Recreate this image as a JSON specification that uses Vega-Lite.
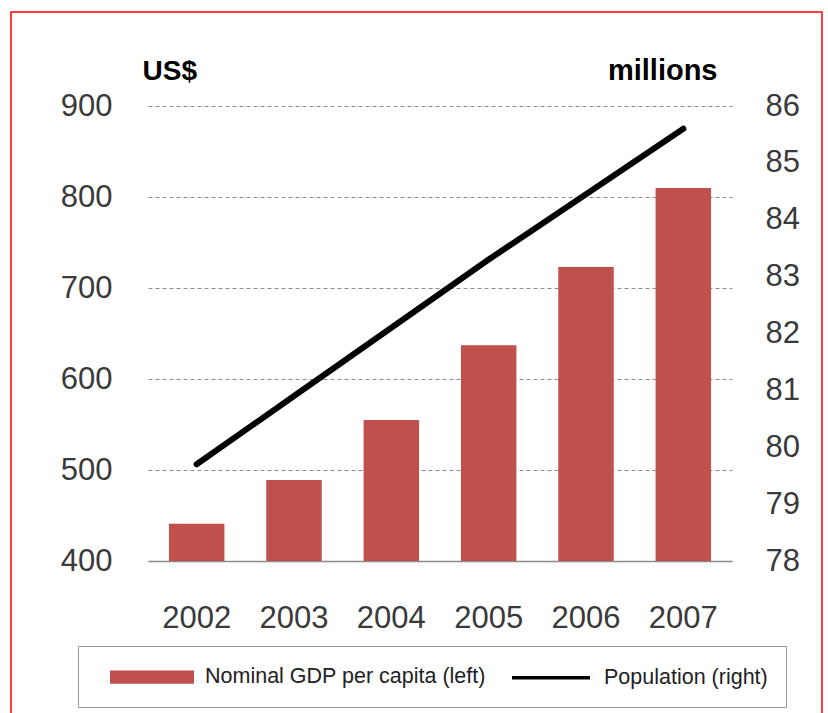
{
  "$schema": "https://vega.github.io/schema/vega-lite/v6.json",
  "width": 811,
  "height": 710,
  "autosize": {"type": "none"},
  "padding": {"left": 11, "top": 12, "right": 6, "bottom": 0},
  "background": "white",
  "data": {
    "values": [
      {"year": "2002", "gdp": 441, "pop": 79.7},
      {"year": "2003", "gdp": 489, "pop": 80.9},
      {"year": "2004", "gdp": 555, "pop": 82.1},
      {"year": "2005", "gdp": 637, "pop": 83.3},
      {"year": "2006", "gdp": 723, "pop": 84.45},
      {"year": "2007", "gdp": 810, "pop": 85.6}
    ]
  },
  "config": {
    "view": {"stroke": "red", "strokeWidth": 1.5},
    "font": "Liberation Sans, Arial, sans-serif"
  },
  "layer": [
    {
      "mark": {"type": "bar"},
      "encoding": {
        "x": {
          "field": "year",
          "type": "nominal",
          "scale": {"range": [137, 721], "paddingInner": 0.43, "paddingOuter": 0.215},
          "axis": {
            "title": null,
            "orient": "bottom",
            "offset": -161,
            "labelAngle": 0,
            "ticks": false,
            "labelPadding": 42,
            "labelFontSize": 31,
            "labelColor": "#3a3a3a",
            "domainColor": "#8c8c8c",
            "domainWidth": 1.5
          }
        },
        "y": {
          "field": "gdp",
          "type": "quantitative",
          "scale": {"domain": [400, 900], "range": [549, 94], "zero": false, "nice": false},
          "axis": {
            "orient": "left",
            "offset": -101,
            "values": [400, 500, 600, 700, 800, 900],
            "domain": false,
            "ticks": false,
            "labelPadding": 0,
            "labelFontSize": 31,
            "labelColor": "#3a3a3a",
            "grid": true,
            "gridColor": "#8c8c8c",
            "gridDash": [4, 3],
            "gridWidth": 1,
            "title": "US$",
            "titleAngle": 0,
            "titleAlign": "left",
            "titleBaseline": "alphabetic",
            "titleX": 30,
            "titleY": 67,
            "titleFontSize": 28,
            "titleFontWeight": "bold",
            "titleColor": "black"
          }
        },
        "y2": {"datum": 400},
        "color": {
          "datum": "Nominal GDP per capita (left)",
          "type": "nominal",
          "scale": {
            "domain": ["Nominal GDP per capita (left)", "Population (right)"],
            "range": ["#C0504D", "black"]
          },
          "legend": {
            "title": null,
            "orient": "none",
            "direction": "horizontal",
            "legendX": 67,
            "legendY": 634,
            "padding": 18,
            "strokeColor": "#9a9a9a",
            "symbolOffset": 43,
            "columnPadding": 9,
            "labelFont": "Liberation Sans",
            "labelFontSize": 21.5,
            "labelColor": "#222222",
            "labelOffset": 40,
            "labelLimit": 0,
            "symbolSize": 484,
            "symbolStrokeWidth": 3.5,
            "symbolType": {"expr": "datum.value === 'Population (right)' ? 'M-3.545,0L3.545,0' : 'M-3.659,-0.432L3.659,-0.432L3.659,0.432L-3.659,0.432Z'"},
            "symbolOpacity": 1
          }
        }
      }
    },
    {
      "mark": {"type": "line", "strokeWidth": 6, "strokeCap": "round"},
      "encoding": {
        "x": {"field": "year", "type": "nominal"},
        "y": {
          "field": "pop",
          "type": "quantitative",
          "scale": {"domain": [78, 86], "range": [549, 94], "zero": false, "nice": false},
          "axis": {
            "orient": "right",
            "offset": -57,
            "values": [78, 79, 80, 81, 82, 83, 84, 85, 86],
            "domain": false,
            "ticks": false,
            "grid": false,
            "labelPadding": 0,
            "labelFontSize": 31,
            "labelColor": "#3a3a3a",
            "title": "millions",
            "titleAngle": 0,
            "titleAlign": "right",
            "titleBaseline": "alphabetic",
            "titleX": -48,
            "titleY": 67,
            "titleFontSize": 29,
            "titleFontWeight": "bold",
            "titleColor": "black"
          }
        },
        "color": {"datum": "Population (right)", "type": "nominal"}
      }
    }
  ],
  "resolve": {"scale": {"y": "independent"}}
}
